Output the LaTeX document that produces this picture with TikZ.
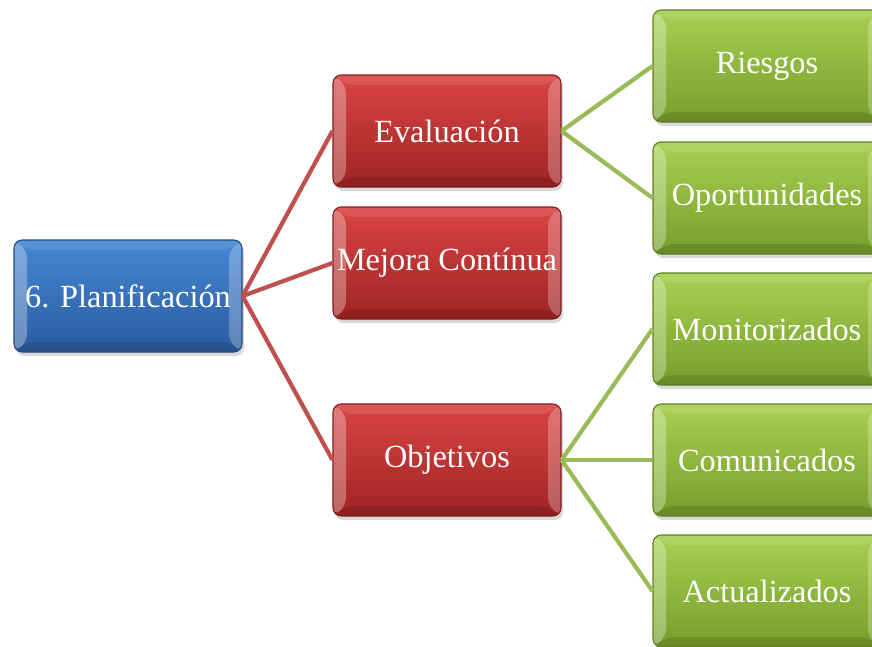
\documentclass[tikz,border=0pt]{standalone}
\usepackage{fontspec}
\setmainfont{Liberation Serif}
\usetikzlibrary{calc,shadows}
\definecolor{PlanBlue}{RGB}{79,129,189}
\definecolor{EvalRed}{RGB}{192,80,77}
\definecolor{SubGreen}{RGB}{155,187,89}
\definecolor{PlanTop}{RGB}{70,135,212}
\definecolor{PlanBot}{RGB}{42,92,160}
\definecolor{EvalTop}{RGB}{218,68,68}
\definecolor{EvalBot}{RGB}{160,36,36}
\definecolor{SubTop}{RGB}{168,208,82}
\definecolor{SubBot}{RGB}{118,158,44}

\tikzset{
  caja/.style={rounded corners=2.3pt, minimum width=2.28cm, minimum height=1.12cm,
    inner sep=0pt, text=white, line width=0.3pt,
    drop shadow={opacity=0.3, shadow xshift=0.02cm, shadow yshift=-0.04cm},
    path picture={
      \coordinate (bnw) at (path picture bounding box.north west);
      \coordinate (bne) at (path picture bounding box.north east);
      \coordinate (bsw) at (path picture bounding box.south west);
      \coordinate (bse) at (path picture bounding box.south east);
      % bevel strips
      \fill[white,opacity=0.3] (bnw) -- ($(bnw)+(0.13,-0.1)$) -- ($(bsw)+(0.13,0.1)$) -- (bsw) -- cycle;
      \fill[white,opacity=0.25] (bne) -- ($(bne)+(-0.13,-0.1)$) -- ($(bse)+(-0.13,0.1)$) -- (bse) -- cycle;
      \fill[white,opacity=0.1] (bnw) -- ($(bnw)+(0.13,-0.1)$) -- ($(bne)+(-0.13,-0.1)$) -- (bne) -- cycle;
      \fill[black,opacity=0.12] (bsw) -- ($(bsw)+(0.13,0.1)$) -- ($(bse)+(-0.13,0.1)$) -- (bse) -- cycle;
    }},
  cajaazul/.style={caja, draw=PlanBot!80!black, top color=PlanTop, bottom color=PlanBot},
  cajaroja/.style={caja, draw=EvalBot!80!black, top color=EvalTop, bottom color=EvalBot},
  cajaverde/.style={caja, draw=SubBot!80!black, top color=SubTop, bottom color=SubBot},
  rama/.style={line width=1.2pt, #1},
}

\begin{document}
\begin{tikzpicture}[font=\fontsize{9.2}{11}\selectfont]
\clip (0,0) rectangle (8.72,-6.46);
% root
\node[cajaazul] (plan) at (1.28,-2.96) {6. Planificación};
% second level
\node[cajaroja] (eval) at (4.47,-1.31) {Evaluación};
\node[cajaroja] (mejora) at (4.47,-2.63) {Mejora Contínua};
\node[cajaroja] (obj) at (4.47,-4.60) {Objetivos};
% third level
\node[cajaverde] (riesgos) at (7.67,-0.66) {Riesgos};
\node[cajaverde] (oport) at (7.67,-1.98) {Oportunidades};
\node[cajaverde] (monit) at (7.67,-3.29) {Monitorizados};
\node[cajaverde] (comun) at (7.67,-4.60) {Comunicados};
\node[cajaverde] (actual) at (7.67,-5.91) {Actualizados};

\foreach \b in {eval,mejora,obj}
  \draw[rama=EvalRed] (plan.east) -- (\b.west);
\foreach \b in {riesgos,oport}
  \draw[rama=SubGreen] (eval.east) -- (\b.west);
\foreach \b in {monit,comun,actual}
  \draw[rama=SubGreen] (obj.east) -- (\b.west);
\end{tikzpicture}
\end{document}
